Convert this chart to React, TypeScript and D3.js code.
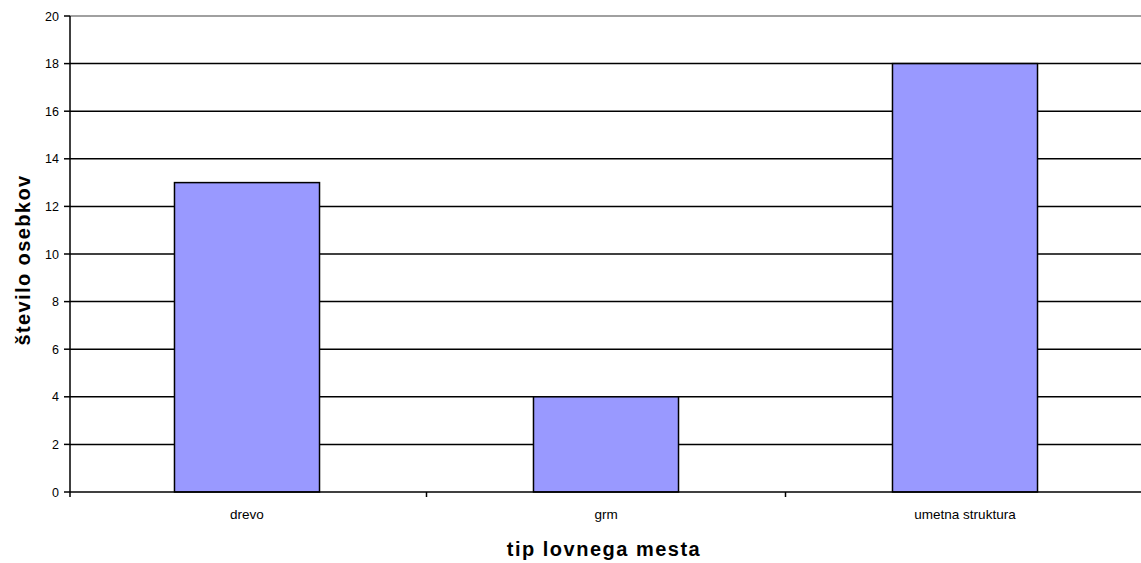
import React, { useEffect, useRef } from 'react';
import * as d3 from 'd3';

const categories = ['drevo', 'grm', 'umetna struktura'];
const counts = [13, 4, 18];
const yTicks = [0, 2, 4, 6, 8, 10, 12, 14, 16, 18, 20];

const W = 1141;
const H = 563;

export default function App() {
    const svgRef = useRef<SVGSVGElement>(null);

    useEffect(() => {
        if (!svgRef.current) return;
        const svg = d3.select(svgRef.current);
        svg.selectAll('*').remove();

        const left = 70, top = 16, bottom = 492;
        const font = 'Liberation Sans, Arial, sans-serif';

        const x = d3.scaleBand().domain(categories).range([67.5, 1144.5]).paddingInner(0).paddingOuter(0);
        const y = d3.scaleLinear().domain([0, 20]).range([bottom, top]);

        // gridlines
        svg.append('g')
            .selectAll('line')
            .data(yTicks.filter(t => t > 0 && t < 20))
            .enter().append('line')
            .attr('x1', left).attr('x2', W)
            .attr('y1', d => y(d)).attr('y2', d => y(d))
            .attr('stroke', '#000').attr('stroke-width', 1.5);

        // top border
        svg.append('line')
            .attr('x1', left).attr('x2', W)
            .attr('y1', y(20)).attr('y2', y(20))
            .attr('stroke', '#808080').attr('stroke-width', 1.5);

        // bars
        const barW = x.bandwidth() * 0.404;
        svg.append('g')
            .selectAll('rect')
            .data(categories)
            .enter().append('rect')
            .attr('x', (d) => x(d)! + (x.bandwidth() - barW) / 2)
            .attr('y', (_, i) => y(counts[i]))
            .attr('width', barW)
            .attr('height', (_, i) => bottom - y(counts[i]))
            .attr('fill', '#9999ff')
            .attr('stroke', '#000')
            .attr('stroke-width', 1.5);

        // y axis
        const yAxis = svg.append('g');
        yAxis.append('line')
            .attr('x1', left).attr('x2', left)
            .attr('y1', top).attr('y2', bottom + 5)
            .attr('stroke', '#000').attr('stroke-width', 1.5);
        yAxis.selectAll('line.tick')
            .data(yTicks)
            .enter().append('line')
            .attr('class', 'tick')
            .attr('x1', left - 6).attr('x2', left)
            .attr('y1', d => y(d)).attr('y2', d => y(d))
            .attr('stroke', '#000').attr('stroke-width', 1.5);
        yAxis.selectAll('text')
            .data(yTicks)
            .enter().append('text')
            .attr('x', left - 11)
            .attr('y', d => y(d))
            .attr('dy', '0.36em')
            .attr('text-anchor', 'end')
            .attr('font-family', font)
            .attr('font-size', 12.5)
            .text(d => d);

        // x axis
        const xAxis = svg.append('g');
        xAxis.append('line')
            .attr('x1', left).attr('x2', W)
            .attr('y1', bottom).attr('y2', bottom)
            .attr('stroke', '#000').attr('stroke-width', 1.5);
        xAxis.selectAll('line.tick')
            .data(categories.slice(1))
            .enter().append('line')
            .attr('class', 'tick')
            .attr('x1', d => x(d)!).attr('x2', d => x(d)!)
            .attr('y1', bottom).attr('y2', bottom + 5)
            .attr('stroke', '#000').attr('stroke-width', 1.5);
        xAxis.selectAll('text')
            .data(categories)
            .enter().append('text')
            .attr('x', d => x(d)! + x.bandwidth() / 2)
            .attr('y', 519)
            .attr('text-anchor', 'middle')
            .attr('font-family', font)
            .attr('font-size', 13.5)
            .text(d => d);

        // titles
        svg.append('text')
            .attr('x', 604)
            .attr('y', 556)
            .attr('text-anchor', 'middle')
            .attr('font-family', font)
            .attr('font-weight', 'bold')
            .attr('font-size', 20)
            .attr('letter-spacing', 1.5)
            .text('tip lovnega mesta');

        svg.append('text')
            .attr('transform', `translate(30, 260) rotate(-90)`)
            .attr('text-anchor', 'middle')
            .attr('font-family', font)
            .attr('font-weight', 'bold')
            .attr('font-size', 20)
            .attr('letter-spacing', 1.4)
            .text('število osebkov');
    }, []);

    return (
        <svg ref={svgRef} width={W} height={H}
            style={{ position: 'absolute', left: 0, top: 0, background: '#fff' }} />
    );
}
